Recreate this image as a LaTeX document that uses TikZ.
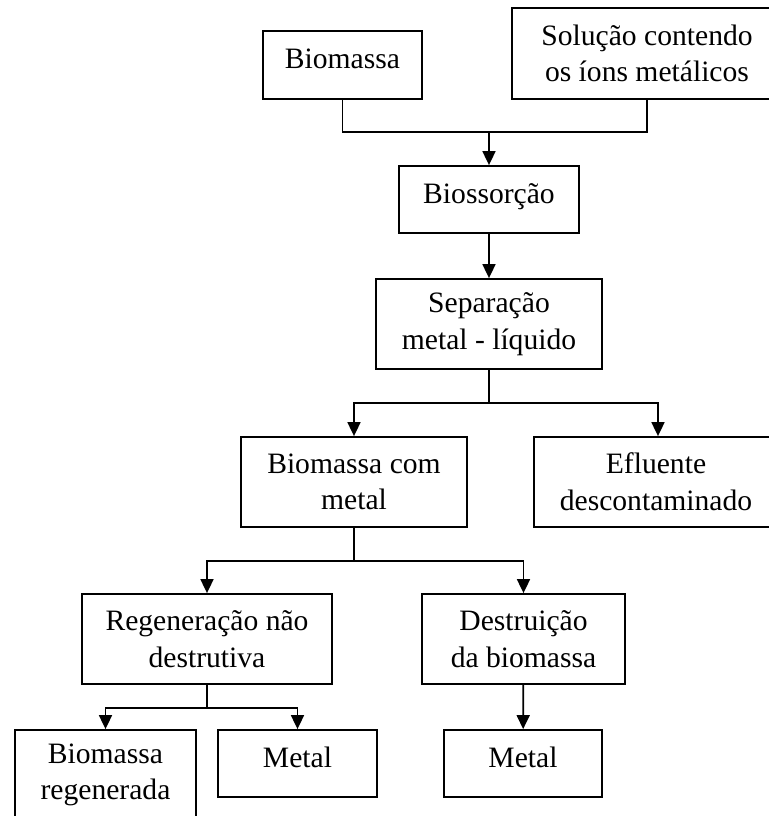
\documentclass[tikz,border=0pt]{standalone}
\usepackage{fontspec}
\setmainfont{Liberation Serif}
\usepackage{tikz}
\usetikzlibrary{arrows.meta,calc}

\begin{document}
\begin{tikzpicture}[x=0.5pt, y=-0.5pt, line width=0.9pt,
    caixa/.style={draw, inner sep=0pt, align=center,
        font=\fontsize{14.8}{18.3}\selectfont},
    linha/.style={text height=10pt, text depth=6.2pt},
    seta/.style={-{Triangle[length=7pt,width=6.5pt]}}]
    %%Background
    \useasboundingbox (0,0) rectangle (769,816);
    %%
    \node[caixa, linha, minimum width=79.5pt, minimum height=34pt] (bio) at (342.5,65) {Biomassa};
    \node[caixa, minimum width=135pt, minimum height=45.5pt] (sol) at (647,53.5) {Solução contendo\\os íons metálicos};
    \node[caixa, linha, minimum width=90pt, minimum height=33.5pt] (bios) at (489,199.5) {Biossorção};
    \node[caixa, minimum width=113pt, minimum height=45pt] (sep) at (489,324) {Separação\\metal - líquido};
    \node[caixa, minimum width=113pt, minimum height=45pt] (bcm) at (354,482) {Biomassa com\\metal};
    \node[caixa, minimum width=122pt, minimum height=45pt] (eflu) at (656,482) {Efluente\\descontaminado};
    \node[caixa, minimum width=125pt, minimum height=45pt] (reg) at (207,639) {Regeneração não\\destrutiva};
    \node[caixa, minimum width=101.5pt, minimum height=45pt] (dest) at (523.5,639) {Destruição\\da biomassa};
    \node[caixa, minimum width=90.5pt, minimum height=45pt] (breg) at (105.5,775) {Biomassa\\regenerada};
    \node[caixa, linha, minimum width=79.5pt, minimum height=33.5pt] (met1) at (297.5,763.5) {Metal};
    \node[caixa, linha, minimum width=79pt, minimum height=33.5pt] (met2) at (523,763.5) {Metal};

    %%junctions
    \coordinate (j1) at (489,132);
    \coordinate (j2) at (489,403);
    \coordinate (j3) at (354,561);
    \coordinate (j4) at (207,708);

    \draw (bio.south) |- (j1) -| (sol.south);
    \draw[seta] (j1) -- (bios.north);
    \draw[seta] (bios) -- (sep);

    \draw (sep) -- (j2);
    \draw[seta] (j2) -| (bcm.north);
    \draw[seta] (j2) -| ($(eflu.north)+(2,0)$);

    \draw (bcm) -- (j3);
    \draw[seta] (j3) -| (reg.north);
    \draw[seta] (j3) -| (dest.north);

    \draw (reg) -- (j4);
    \draw[seta] (j4) -| (breg.north);
    \draw[seta] (j4) -| (met1.north);
    \draw[seta] (dest) -- (met2);
\end{tikzpicture}
\end{document}
